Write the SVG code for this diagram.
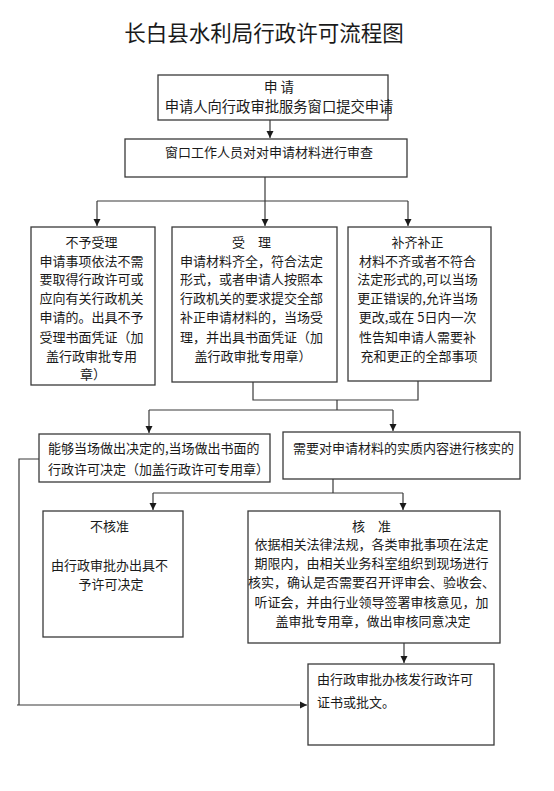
<svg xmlns="http://www.w3.org/2000/svg" width="554" height="791" viewBox="0 0 554 791">
<defs>
<marker id="arr" markerWidth="8" markerHeight="8" refX="7" refY="4" orient="auto" markerUnits="userSpaceOnUse">
<path d="M0,0.5 L7,4 L0,7.5 Z" fill="#1a1a1a"/>
</marker>
<style>
.box{fill:#fff;stroke:#3a3a3a;stroke-width:1.3}
.ln{fill:none;stroke:#3a3a3a;stroke-width:1.2}
.t{font-family:"Noto Sans CJK SC","Noto Sans CJK JP",sans-serif;font-size:13px;fill:#1a1a1a}
.c{text-anchor:middle}
</style>
</defs>
<rect width="554" height="791" fill="#fff"/>
<text x="264" y="41" class="t c" style="font-size:21.5px">长白县水利局行政许可流程图</text>

<g id="connectors">
<path class="ln" d="M270,120 V138" marker-end="url(#arr)"/>
<path class="ln" d="M265,177 V201 M97,201 H408"/>
<path class="ln" d="M97,201 V226" marker-end="url(#arr)"/>
<path class="ln" d="M265,201 V226" marker-end="url(#arr)"/>
<path class="ln" d="M408,201 V226" marker-end="url(#arr)"/>
<path class="ln" d="M253,382 V400 H418 V381 M337,400 V410 M149,410 H393"/>
<path class="ln" d="M149,410 V433" marker-end="url(#arr)"/>
<path class="ln" d="M393,410 V431" marker-end="url(#arr)"/>
<path class="ln" d="M39,459 H19 V705"/>
<path class="ln" d="M17,705 H307" marker-end="url(#arr)"/>
<path class="ln" d="M333,479 V493 M153,493 H403"/>
<path class="ln" d="M153,493 V510" marker-end="url(#arr)"/>
<path class="ln" d="M403,493 V510" marker-end="url(#arr)"/>
<path class="ln" d="M404,643 V663" marker-end="url(#arr)"/>
</g>

<g id="apply">
<rect class="box" x="158" y="75" width="230" height="45"/>
<text x="279" y="92" class="t c" style="font-size:13.5px">申 请</text>
<text x="279" y="112" class="t c" style="font-size:14.3px">申请人向行政审批服务窗口提交申请</text>
</g>

<g id="review">
<rect class="box" x="125" y="139" width="282" height="38"/>
<text x="165" y="157" class="t">窗口工作人员对对申请材料进行审查</text>
</g>

<g id="reject">
<rect class="box" x="31" y="227" width="124" height="158"/>
<text class="t c">
<tspan x="93" y="247">不予受理</tspan>
<tspan x="93" y="266">申请事项依法不需</tspan>
<tspan x="93" y="284">要取得行政许可或</tspan>
<tspan x="93" y="303">应向有关行政机关</tspan>
<tspan x="93" y="322">申请的。出具不予</tspan>
<tspan x="93" y="342">受理书面凭证（加</tspan>
<tspan x="93" y="361">盖行政审批专用</tspan>
<tspan x="93" y="379">章）</tspan>
</text>
</g>

<g id="accept">
<rect class="box" x="172" y="227" width="165" height="155"/>
<text class="t c">
<tspan x="253" y="247">受　理</tspan>
<tspan x="253" y="266">申请材料齐全，符合法定</tspan>
<tspan x="253" y="284">形式，或者申请人按照本</tspan>
<tspan x="253" y="303">行政机关的要求提交全部</tspan>
<tspan x="253" y="322">补正申请材料的，当场受</tspan>
<tspan x="253" y="342">理，并出具书面凭证（加</tspan>
<tspan x="253" y="361">盖行政审批专用章）</tspan>
</text>
</g>

<g id="supplement">
<rect class="box" x="348" y="227" width="143" height="154"/>
<text class="t c">
<tspan x="419" y="247">补齐补正</tspan>
<tspan x="419" y="266">材料不齐或者不符合</tspan>
<tspan x="419" y="284">法定形式的,可以当场</tspan>
<tspan x="419" y="303">更正错误的,允许当场</tspan>
<tspan x="419" y="322">更改,或在 5日内一次</tspan>
<tspan x="419" y="342">性告知申请人需要补</tspan>
<tspan x="419" y="361">充和更正的全部事项</tspan>
</text>
</g>

<g id="onsite">
<rect class="box" x="39" y="434" width="231" height="48"/>
<text class="t">
<tspan x="48" y="453">能够当场做出决定的,当场做出书面的</tspan>
<tspan x="48" y="474">行政许可决定（加盖行政许可专用章）</tspan>
</text>
</g>

<g id="verify">
<rect class="box" x="283" y="432" width="237" height="47"/>
<text x="293" y="453" class="t">需要对申请材料的实质内容进行核实的</text>
</g>

<g id="deny">
<rect class="box" x="43" y="511" width="140" height="126"/>
<text class="t c">
<tspan x="111" y="531">不核准</tspan>
<tspan x="111" y="570">由行政审批办出具不</tspan>
<tspan x="111" y="589">予许可决定</tspan>
</text>
</g>

<g id="approve">
<rect class="box" x="248" y="511" width="252" height="132"/>
<text class="t c">
<tspan x="373" y="531">核　准</tspan>
<tspan x="373" y="549">依据相关法律法规，各类审批事项在法定</tspan>
<tspan x="373" y="568">期限内，由相关业务科室组织到现场进行</tspan>
<tspan x="373" y="587">核实，确认是否需要召开评审会、验收会、</tspan>
<tspan x="373" y="607">听证会，并由行业领导签署审核意见，加</tspan>
<tspan x="373" y="626">盖审批专用章，做出审核同意决定</tspan>
</text>
</g>

<g id="issue">
<rect class="box" x="308" y="664" width="186" height="81"/>
<text class="t">
<tspan x="317" y="684">由行政审批办核发行政许可</tspan>
<tspan x="317" y="707">证书或批文。</tspan>
</text>
</g>
</svg>
